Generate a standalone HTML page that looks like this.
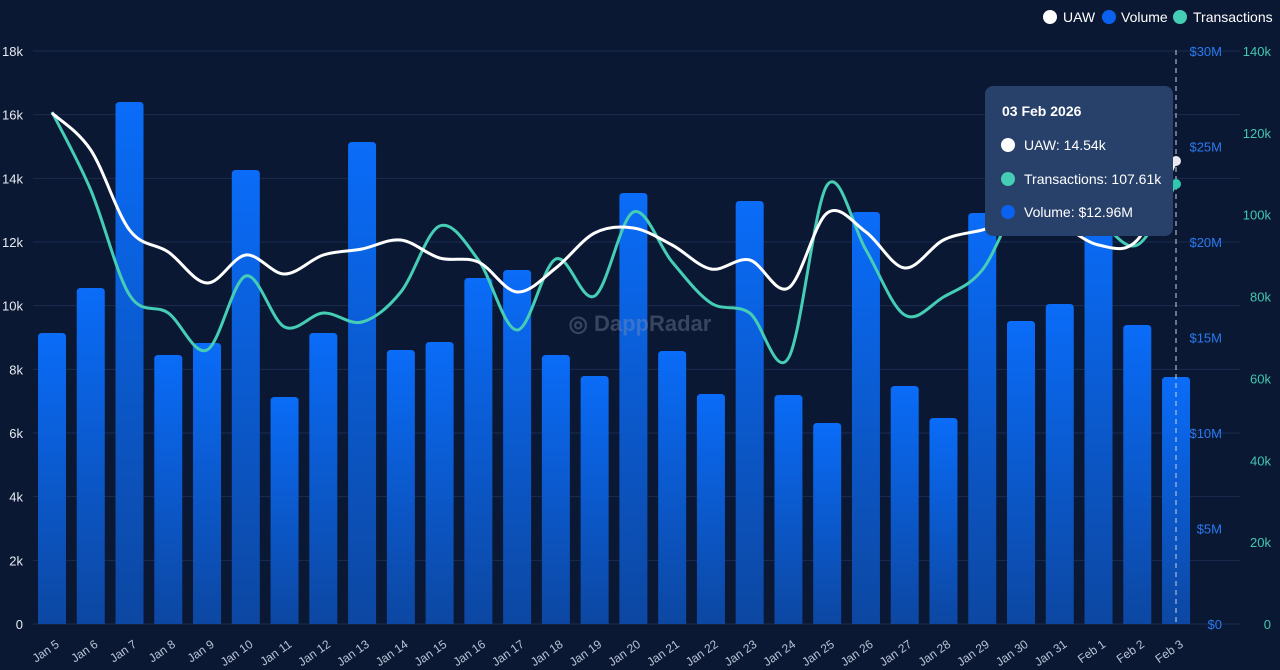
<!DOCTYPE html>
<html><head><meta charset="utf-8"><style>
html,body{margin:0;padding:0;background:#0a1833;width:1280px;height:670px;overflow:hidden;font-family:"Liberation Sans",sans-serif}
svg{display:block}
.tt{position:absolute;left:985px;top:86px;width:188px;height:150px;background:#27416b;border-radius:8px;color:#fff;font-size:14px}
.tt .h{position:absolute;left:17px;top:17px;font-weight:bold}
.tt .r{position:absolute;left:16px}
.tt .d{display:inline-block;width:14px;height:14px;border-radius:50%;vertical-align:-2px;margin-right:9px}
</style></head><body>
<svg id="s" width="1280" height="670" xmlns="http://www.w3.org/2000/svg"></svg>
<div class="tt"><div class="h">03 Feb 2026</div>
<div class="r" style="top:51px"><span class="d" style="background:#fff"></span>UAW: 14.54k</div>
<div class="r" style="top:85px"><span class="d" style="background:#45cdb5"></span>Transactions: 107.61k</div>
<div class="r" style="top:118px"><span class="d" style="background:#0b62f0"></span>Volume: $12.96M</div></div>
<script>
const s=document.getElementById('s');let h='';
h+='<defs><linearGradient id="g" x1="0" y1="0" x2="0" y2="1"><stop offset="0" stop-color="#0a6cf8"/><stop offset="1" stop-color="#0c47a2"/></linearGradient></defs>';
const y0=624,yt=51;
for(let i=0;i<=9;i++){const y=y0-(y0-yt)*i/9;h+=`<line x1="33" x2="1240" y1="${y}" y2="${y}" stroke="#1a2c50" stroke-width="1"/>`;
h+=`<text x="23" y="${y+5}" fill="#e6ebf3" font-size="13" text-anchor="end">${i?i*2+'k':0}</text>`;}
for(let i=0;i<=6;i++){const y=y0-(y0-yt)*i/6;h+=`<text x="1222" y="${y+5}" fill="#2a7af0" font-size="13" text-anchor="end">$${i*5}${i?'M':''}</text>`;}
for(let i=0;i<=7;i++){const y=y0-(y0-yt)*i/7;h+=`<text x="1271" y="${y+5}" fill="#42c7b0" font-size="13" text-anchor="end">${i?i*20+'k':0}</text>`;}
const labels=[];for(let d=5;d<=31;d++)labels.push('Jan '+d);labels.push('Feb 1','Feb 2','Feb 3');
const bars=[333,288,102,355,343,170,397,333,142,350,342,278,270,355,376,193,351,394,201,395,423,212,386,418,213,321,304,215,325,377];
const X=i=>52+i*38.76;
bars.forEach((t,i)=>{const x=X(i)-14,w=28,r=4;h+=`<path d="M${x} ${y0}V${t+r}Q${x} ${t} ${x+r} ${t}H${x+w-r}Q${x+w} ${t} ${x+w} ${t+r}V${y0}Z" fill="url(#g)"/>`;
h+=`<text transform="translate(${X(i)+8},${y0+22}) rotate(-35)" fill="#b8c2d6" font-size="12" text-anchor="end">${labels[i]}</text>`;});
h+='<text x="640" y="331" fill="#8a98b3" opacity="0.35" font-size="22" font-weight="bold" text-anchor="middle">&#9678; DappRadar</text>';
h+=`<line x1="1176" x2="1176" y1="50" y2="624" stroke="#c9d2e0" stroke-dasharray="5,4" stroke-width="1"/>`;
function path(ys){const p=ys.map((y,i)=>[X(i),y]);let d=`M${p[0][0]} ${p[0][1]}`;for(let i=0;i<p.length-1;i++){const a=p[i-1]||p[i],b=p[i],c=p[i+1],e=p[i+2]||c;const t=6;d+=`C${b[0]+(c[0]-a[0])/t} ${b[1]+(c[1]-a[1])/t} ${c[0]-(e[0]-b[0])/t} ${c[1]-(e[1]-b[1])/t} ${c[0]} ${c[1]}`;}return d;}
const tx=[112,190,295,313,350,276,327,313,322,292,226,260,330,259,296,212,262,303,313,358,185,250,315,297,270,200,190,220,245,184];
const ua=[113,150,230,252,283,255,274,255,249,240,258,262,292,268,233,228,245,269,260,288,213,232,268,240,230,220,225,245,240,161];
h+=`<path d="${path(tx)}" fill="none" stroke="#45cdb5" stroke-width="3"/>`;
h+=`<path d="${path(ua)}" fill="none" stroke="#ffffff" stroke-width="3"/>`;
h+=`<circle cx="1176" cy="161" r="5" fill="#e8e8ee"/><circle cx="1176" cy="184" r="5" fill="#2fc9b0"/>`;
h+=`<circle cx="1050" cy="17" r="7" fill="#fff"/><text x="1063" y="22" fill="#fff" font-size="14">UAW</text>`;
h+=`<circle cx="1109" cy="17" r="7" fill="#0b62f0"/><text x="1121" y="22" fill="#fff" font-size="14">Volume</text>`;
h+=`<circle cx="1180" cy="17" r="7" fill="#45cdb5"/><text x="1193" y="22" fill="#fff" font-size="14">Transactions</text>`;
s.innerHTML=h;
</script>
</body></html>
